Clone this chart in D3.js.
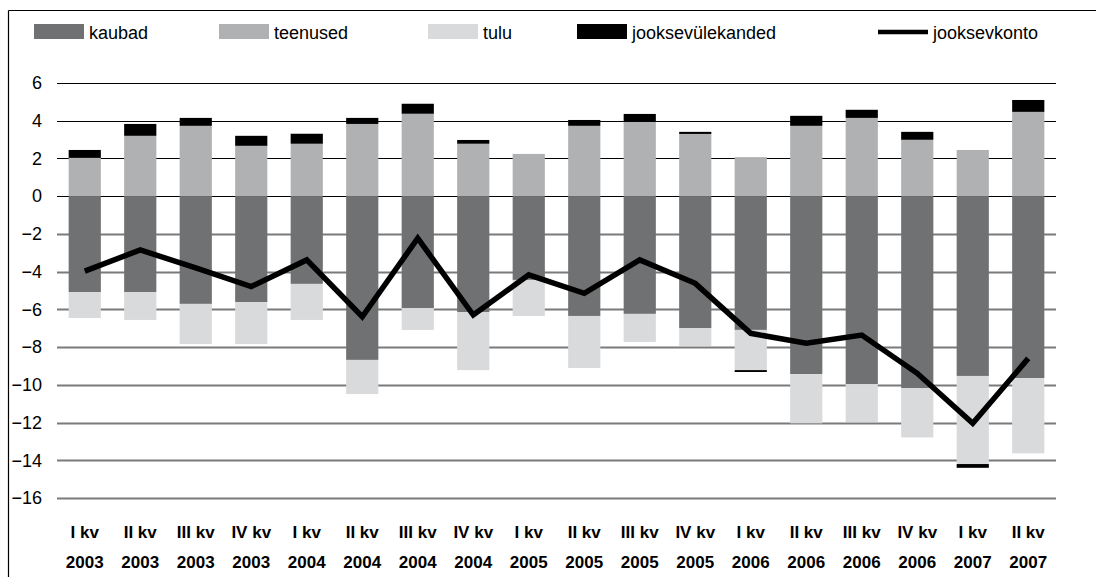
<!DOCTYPE html>
<html>
<head>
<meta charset="utf-8">
<script src="https://cdn.jsdelivr.net/npm/d3@7"></script>
<style>
  html, body { margin: 0; padding: 0; background: #fff; }
  svg { display: block; font-family: "Liberation Sans", Arial, Helvetica, sans-serif; }
</style>
</head>
<body>
<svg id="chart" width="1096" height="577"></svg>
<script>
// ---- data ----
const quarters = ["I kv","II kv","III kv","IV kv","I kv","II kv","III kv","IV kv","I kv","II kv","III kv","IV kv","I kv","II kv","III kv","IV kv","I kv","II kv"];
const years = ["2003","2003","2003","2003","2004","2004","2004","2004","2005","2005","2005","2005","2006","2006","2006","2006","2007","2007"];
const kaubad = [-5.08,-5.08,-5.71,-5.61,-4.65,-8.68,-5.93,-6.14,-4.44,-6.35,-6.24,-6.99,-7.09,-9.43,-9.96,-10.17,-9.53,-9.64];
const teenused = [2.03,3.2,3.73,2.67,2.78,3.83,4.37,2.78,2.24,3.73,3.94,3.3,2.07,3.73,4.15,2.99,2.45,4.47];
const tulu = [-1.38,-1.48,-2.13,-2.23,-1.91,-1.81,-1.16,-3.08,-1.91,-2.76,-1.49,-0.95,-2.13,-2.61,-2.01,-2.62,-4.67,-3.99];
const jooksevulekanded = [0.42,0.63,0.42,0.53,0.53,0.32,0.53,0.2,0,0.31,0.42,0.11,-0.1,0.53,0.43,0.42,-0.2,0.63];
const jooksevkonto = [-3.97,-2.85,-3.8,-4.79,-3.38,-6.39,-2.23,-6.3,-4.17,-5.15,-3.38,-4.62,-7.27,-7.8,-7.36,-9.39,-12.04,-8.6];
const yTicks = [6,4,2,0,-2,-4,-6,-8,-10,-12,-14,-16];
const seriesNames = ["kaubad","teenused","tulu","jooksevülekanded"];
const lineName = "jooksevkonto";

// ---- styles / layout ----
const colors = { "kaubad": "#707173", "teenused": "#b0b1b3", "tulu": "#d9dadb", "jooksevülekanded": "#000000" };
const legendX = { "kaubad": 34, "teenused": 219, "tulu": 428, "jooksevülekanded": 577, "jooksevkonto": 878 };

const svg = d3.select("#chart");
const plot = { left: 57, right: 1056, top: 83, bottom: 498 };

const idx = d3.range(quarters.length);
const x = d3.scaleBand().domain(idx).range([plot.left, plot.right]).paddingInner(0.42).paddingOuter(0.21);
const y = d3.scaleLinear().domain([-16, 6]).range([plot.bottom, plot.top]);

// frame
svg.append("line").attr("x1", 8.5).attr("x2", 1096).attr("y1", 10.5).attr("y2", 10.5).attr("stroke", "#000").attr("stroke-width", 1.2);
svg.append("line").attr("x1", 8.5).attr("x2", 8.5).attr("y1", 10.5).attr("y2", 577).attr("stroke", "#000").attr("stroke-width", 1.2);

// gridlines
const grid = svg.append("g");
grid.selectAll("line").data(yTicks).join("line")
  .attr("x1", plot.left).attr("x2", plot.right)
  .attr("y1", d => Math.round(y(d)) + 0.5).attr("y2", d => Math.round(y(d)) + 0.5)
  .attr("stroke", d => d >= 0 ? "#000" : "#7a7a7a")
  .attr("stroke-width", d => d >= 0 ? 1 : 1.8);

// y axis labels
const yAxis = d3.axisLeft(y).tickValues(yTicks).tickSize(0).tickPadding(0).tickFormat(d3.format("d"));
const yg = svg.append("g").attr("transform", "translate(42,0)").call(yAxis);
yg.select(".domain").remove();
yg.selectAll("text").attr("font-size", 18).attr("fill", "#000").attr("font-family", "Liberation Sans, Arial, sans-serif");

// stacked bars
const table = idx.map(i => ({
  i,
  "kaubad": kaubad[i], "teenused": teenused[i], "tulu": tulu[i], "jooksevülekanded": jooksevulekanded[i]
}));
const stack = d3.stack().keys(seriesNames).offset(d3.stackOffsetDiverging);
const layers = stack(table);
svg.append("g").selectAll("g").data(layers).join("g")
  .attr("fill", d => colors[d.key])
  .selectAll("rect").data(d => d).join("rect")
  .attr("x", d => x(d.data.i))
  .attr("width", x.bandwidth())
  .attr("y", d => y(Math.max(d[0], d[1])))
  .attr("height", d => Math.abs(y(d[0]) - y(d[1])));

// line
const line = d3.line().x((d, i) => x(i) + x.bandwidth() / 2).y(d => y(d));
svg.append("path").datum(jooksevkonto)
  .attr("d", line).attr("fill", "none").attr("stroke", "#000")
  .attr("stroke-width", 5.5).attr("stroke-linejoin", "miter");

// x labels
const xg = svg.append("g");
xg.selectAll("text.q").data(idx).join("text").attr("class", "q")
  .attr("x", i => x(i) + x.bandwidth() / 2).attr("y", 538)
  .attr("text-anchor", "middle").attr("font-size", 17).attr("font-weight", "bold")
  .text(i => quarters[i]);
xg.selectAll("text.yr").data(idx).join("text").attr("class", "yr")
  .attr("x", i => x(i) + x.bandwidth() / 2).attr("y", 568)
  .attr("text-anchor", "middle").attr("font-size", 17).attr("font-weight", "bold")
  .text(i => years[i]);

// legend
const lg = svg.append("g");
seriesNames.forEach(k => {
  lg.append("rect").attr("x", legendX[k]).attr("y", 24).attr("width", 50).attr("height", 15).attr("fill", colors[k]);
  lg.append("text").attr("x", legendX[k] + 55).attr("y", 39).attr("font-size", 18).attr("fill", "#000").text(k);
});
lg.append("line").attr("x1", legendX[lineName]).attr("x2", legendX[lineName] + 50)
  .attr("y1", 32).attr("y2", 32).attr("stroke", "#000").attr("stroke-width", 4.5);
lg.append("text").attr("x", legendX[lineName] + 55).attr("y", 39).attr("font-size", 18).attr("fill", "#000").text(lineName);
</script>
</body>
</html>
